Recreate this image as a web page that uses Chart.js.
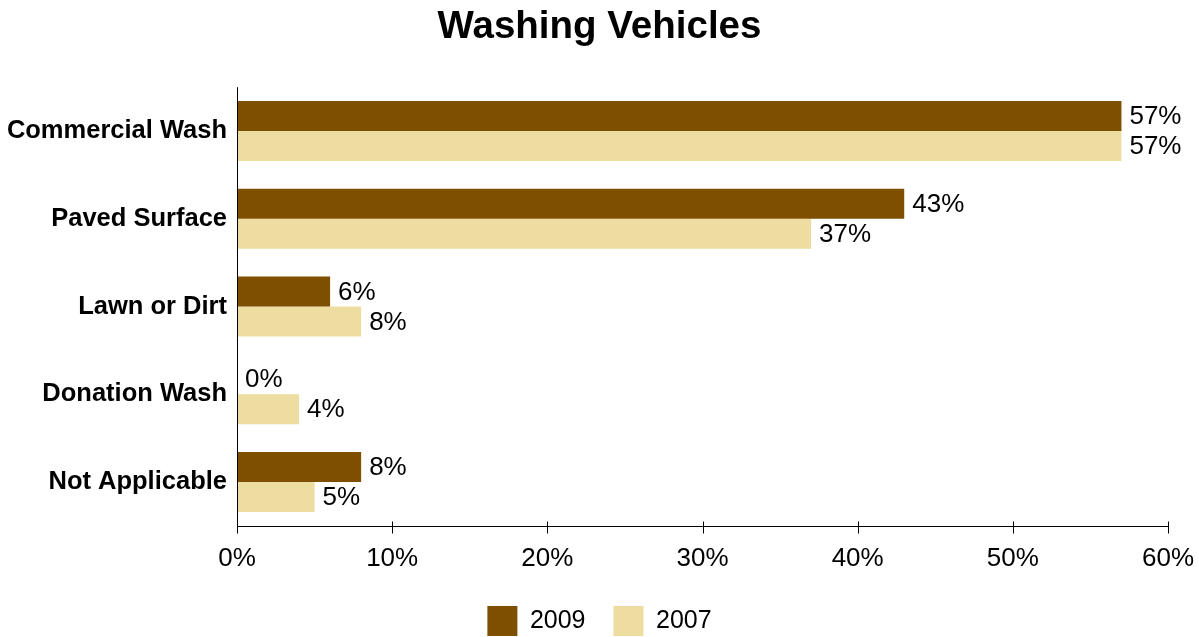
<!DOCTYPE html>
<html>
<head>
<meta charset="utf-8">
<script src="https://cdn.jsdelivr.net/npm/chart.js@4/dist/chart.umd.min.js"></script>
<style>
html,body{margin:0;padding:0;background:#fff;}
#wrap{width:1199px;height:637px;position:relative;}
</style>
</head>
<body>
<div id="wrap"><canvas id="c" width="1199" height="637"></canvas></div>
<script>
const categories = ["Commercial Wash", "Paved Surface", "Lawn or Dirt", "Donation Wash", "Not Applicable"];
const values2009 = [57, 43, 6, 0, 8];
const values2007 = [57, 37, 8, 4, 5];
const seriesNames = ["2009", "2007"];
const xTicks = [0, 10, 20, 30, 40, 50, 60];

const FONT = "'Liberation Sans', Arial, sans-serif";

const valueLabels = {
  id: 'valueLabels',
  afterDatasetsDraw(chart) {
    const ctx = chart.ctx;
    ctx.save();
    ctx.font = "26px " + FONT;
    ctx.fillStyle = "#000";
    ctx.textAlign = "left";
    ctx.textBaseline = "middle";
    chart.data.datasets.forEach((ds, i) => {
      const meta = chart.getDatasetMeta(i);
      meta.data.forEach((bar, j) => {
        ctx.fillText(ds.data[j] + "%", bar.x + 8, bar.y + 1);
      });
    });
    ctx.restore();
  }
};

const axisOverlay = {
  id: 'axisOverlay',
  afterDraw(chart) {
    const ctx = chart.ctx;
    const xs = chart.scales.x;
    const area = chart.chartArea;
    const y0 = Math.round(area.bottom) + 0.5;
    const x0 = Math.round(area.left) + 0.5;
    ctx.save();
    ctx.strokeStyle = "#000";
    ctx.lineWidth = 1;
    ctx.beginPath();
    ctx.moveTo(x0, area.top);
    ctx.lineTo(x0, y0);
    ctx.lineTo(area.right, y0);
    ctx.stroke();
    xs.ticks.forEach(t => {
      const px = Math.round(xs.getPixelForValue(t.value)) + 0.5;
      ctx.beginPath();
      ctx.moveTo(px, y0 - 5);
      ctx.lineTo(px, y0 + 7);
      ctx.stroke();
    });
    ctx.restore();
  }
};

new Chart(document.getElementById('c'), {
  type: 'bar',
  data: {
    labels: categories,
    datasets: [
      { label: seriesNames[0], data: values2009, backgroundColor: '#7F4F00', borderWidth: 0 },
      { label: seriesNames[1], data: values2007, backgroundColor: '#EDDDA0', borderWidth: 0 }
    ]
  },
  options: {
    indexAxis: 'y',
    responsive: false,
    animation: false,
    devicePixelRatio: 1,
    categoryPercentage: 0.685,
    barPercentage: 1.0,
    layout: { padding: { left: 0, right: 0, top: 0, bottom: -9 } },
    scales: {
      x: {
        min: 0, max: 60,
        afterBuildTicks(scale) { scale.ticks = xTicks.map(v => ({ value: v })); },
        afterFit(scale) { scale.paddingRight = 31; scale.height += 4; },
        ticks: {
          callback: v => v + '%',
          color: '#000',
          font: { family: FONT, size: 26 },
          padding: 0,
          maxRotation: 0
        },
        grid: { display: true, drawOnChartArea: false, drawTicks: true, tickLength: 17, color: 'rgba(0,0,0,0)' },
        border: { display: false }
      },
      y: {
        afterFit(scale) { scale.width = 237; },
        ticks: {
          color: '#000',
          font: { family: FONT, size: 25.5, weight: 'bold' },
          padding: 10
        },
        grid: { display: false, drawTicks: false },
        border: { display: false }
      }
    },
    plugins: {
      title: {
        display: true,
        text: 'Washing Vehicles',
        color: '#000',
        font: { family: FONT, size: 38.5, weight: 'bold' },
        padding: { top: 4, bottom: 37 }
      },
      legend: {
        position: 'bottom',
        labels: {
          color: '#000',
          font: { family: FONT, size: 25 },
          boxWidth: 30,
          boxHeight: 30,
          padding: 28
        }
      },
      tooltip: { enabled: false }
    }
  },
  plugins: [valueLabels, axisOverlay]
});
</script>
</body>
</html>
